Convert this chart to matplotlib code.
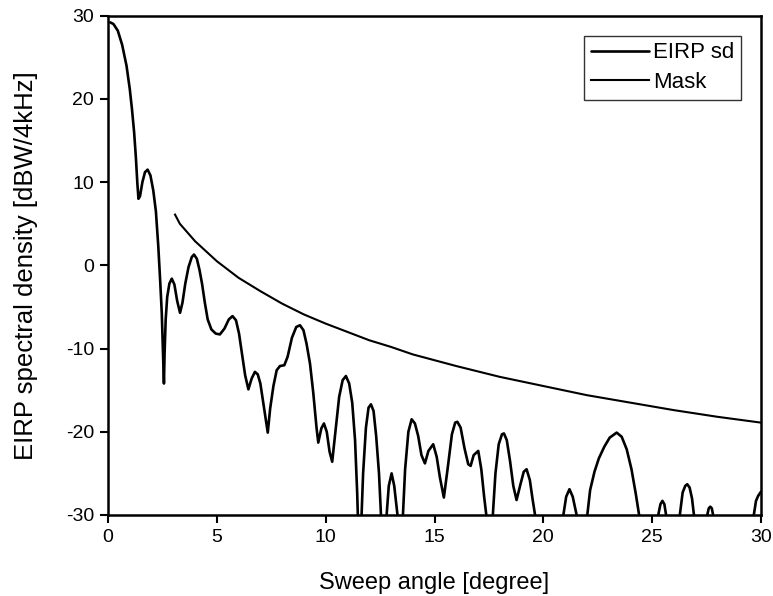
import matplotlib
matplotlib.use("Agg")
import matplotlib.pyplot as plt

plt.rcParams['font.family'] = ['Liberation Sans', 'DejaVu Sans']
plt.rcParams['axes.unicode_minus'] = False

# EIRP spectral density trace (values below -30 are clipped by the axis)
eirp_x = [0.10, 0.25, 0.45, 0.65, 0.85, 1.00, 1.10, 1.20, 1.28, 1.35, 1.40, 1.47, 1.58, 1.70, 1.82,
          1.95, 2.08, 2.20, 2.31, 2.40, 2.47, 2.53, 2.57, 2.60, 2.65, 2.72, 2.82, 2.93, 3.05, 3.18,
          3.31, 3.42, 3.55, 3.70, 3.85, 3.95, 4.08, 4.20, 4.32, 4.45, 4.58, 4.75, 4.95, 5.14, 5.35,
          5.55, 5.72, 5.88, 6.02, 6.15, 6.30, 6.45, 6.60, 6.75, 6.88, 7.00, 7.15, 7.34, 7.45, 7.60,
          7.75, 7.90, 8.10, 8.25, 8.45, 8.65, 8.82, 8.98, 9.12, 9.28, 9.43, 9.58, 9.66, 9.80, 9.92,
          10.05, 10.18, 10.30, 10.45, 10.62, 10.78, 10.93, 11.08, 11.22, 11.35, 11.45, 11.50, 11.58,
          11.65, 11.72, 11.85, 11.97, 12.08, 12.20, 12.32, 12.45, 12.55, 12.65, 12.80, 12.90, 13.03,
          13.15, 13.30, 13.40, 13.55, 13.65, 13.80, 13.95, 14.10, 14.25, 14.40, 14.56, 14.72, 14.94,
          15.10, 15.25, 15.43, 15.60, 15.80, 15.95, 16.05, 16.20, 16.38, 16.55, 16.66, 16.80, 17.01,
          17.15, 17.28, 17.38, 17.50, 17.68, 17.80, 17.95, 18.10, 18.19, 18.32, 18.47, 18.62, 18.77,
          18.95, 19.10, 19.23, 19.38, 19.50, 19.62, 19.80, 20.70, 20.92, 21.05, 21.20, 21.35, 21.53,
          21.80, 22.02, 22.15, 22.35, 22.55, 22.80, 23.05, 23.37, 23.60, 23.83, 24.05, 24.25, 24.40,
          24.80, 25.28, 25.38, 25.47, 25.56, 25.64, 25.90, 26.27, 26.40, 26.52, 26.61, 26.72, 26.83,
          26.92, 27.20, 27.53, 27.60, 27.67, 27.74, 27.80, 28.60, 29.67, 29.77, 29.87, 30.00]
eirp_y = [29.2, 29.0, 28.2, 26.5, 24.0, 21.2, 18.8, 16.0, 13.0, 9.8, 8.0, 8.3, 10.0, 11.2, 11.5,
          10.8, 9.0, 6.5, 2.3, -2.0, -5.7, -11.0, -14.2, -10.5, -6.5, -3.8, -2.2, -1.6, -2.3, -4.3,
          -5.7, -4.5, -2.2, -0.2, 1.0, 1.3, 0.8, -0.5, -2.2, -4.5, -6.5, -7.7, -8.2, -8.3, -7.6,
          -6.5, -6.1, -6.6, -8.2, -10.5, -13.2, -14.9, -13.6, -12.8, -13.1, -14.2, -16.8, -20.1, -17.2, -14.5,
          -12.6, -12.1, -12.0, -11.0, -8.7, -7.4, -7.2, -7.8, -9.4, -11.8, -15.3, -19.5, -21.3, -19.6, -19.0,
          -20.0, -22.4, -23.6, -20.0, -15.8, -13.8, -13.3, -14.2, -16.5, -21.0, -27.5, -32.0, -40.0,
          -30.0, -25.0, -19.5, -17.1, -16.7, -17.5, -20.5, -25.0, -30.5, -40.0, -30.0, -26.5, -25.0,
          -26.5, -30.0, -40.0, -30.0, -24.5, -20.0, -18.5, -19.0, -20.5, -22.8, -23.8, -22.3, -21.5,
          -23.0, -25.5, -27.9, -24.5, -20.3, -18.9, -18.8, -19.5, -22.0, -23.9, -24.1, -22.8, -22.3,
          -24.5, -27.8, -30.0, -40.0, -30.0, -25.0, -21.5, -20.3, -20.2, -21.0, -23.5, -26.5, -28.2,
          -26.3, -24.8, -24.5, -25.8, -28.0, -30.0, -40.0, -40.0, -30.0, -27.8, -26.9, -27.8, -30.0,
          -40.0, -30.0, -27.0, -24.8, -23.2, -21.8, -20.7, -20.1, -20.6, -22.1, -24.5, -27.5, -30.0,
          -40.0, -30.0, -28.7, -28.3, -28.7, -30.0, -40.0, -30.0, -27.3, -26.5, -26.3, -26.7, -28.0,
          -30.0, -40.0, -30.0, -29.2, -29.0, -29.2, -30.0, -40.0, -30.0, -28.3, -27.7, -27.2]

# Mask
mask_x = [3.08, 3.3, 3.6, 4.0, 4.5, 5.0, 5.5, 6.0, 7.0, 8.0, 9.0, 10.0, 11.0, 12.0, 13.0, 14.0,
          16.0, 18.0, 20.0, 22.0, 24.0, 26.0, 28.0, 30.0]
mask_y = [6.1, 5.0, 4.1, 2.9, 1.7, 0.5, -0.5, -1.5, -3.1, -4.6, -5.9, -7.0, -8.0, -9.0, -9.8, -10.7,
          -12.1, -13.4, -14.5, -15.6, -16.5, -17.4, -18.2, -18.9]

xticks = [0, 5, 10, 15, 20, 25, 30]
yticks = [-30, -20, -10, 0, 10, 20, 30]

fig = plt.figure(figsize=(7.73, 5.96), dpi=100)
ax = fig.add_axes([108/773, 1 - 515/596, (761-108)/773, (515-15.7)/596])

ax.plot(eirp_x, eirp_y, color='black', lw=1.9, label='EIRP sd',
        solid_joinstyle='round', solid_capstyle='round')
ax.plot(mask_x, mask_y, color='black', lw=1.5, label='Mask',
        solid_joinstyle='round')

ax.set_xlim(0, 30)
ax.set_ylim(-30, 30)
ax.set_xticks(xticks)
ax.set_yticks(yticks)
ax.tick_params(direction='out', length=6, width=1.5, labelsize=14, pad=4)
for s in ax.spines.values():
    s.set_linewidth(1.8)

ax.set_xlabel('Sweep angle [degree]', fontsize=17, labelpad=19)
ax.set_ylabel('EIRP spectral density [dBW/4kHz]', fontsize=18.5, labelpad=20)

leg = ax.legend(loc='upper right', fontsize=16, frameon=True, fancybox=False,
                edgecolor='black', handlelength=2.6, handletextpad=0.2,
                borderpad=0.3, labelspacing=0.4, borderaxespad=0.9)
leg.get_frame().set_linewidth(1.0)

fig.savefig('out.png', dpi=100)
